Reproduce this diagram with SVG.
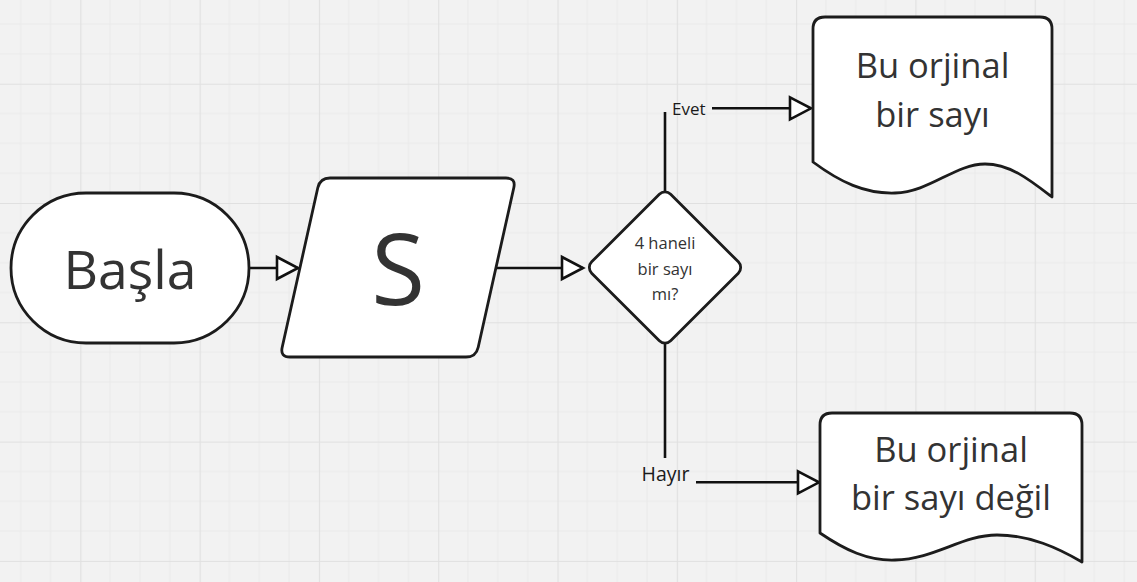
<svg xmlns="http://www.w3.org/2000/svg" width="1137" height="582" viewBox="0 0 1137 582">
  <style>
    .shape { fill: #ffffff; stroke: #1c1c1c; stroke-width: 2.8; stroke-linejoin: round; }
    .conn { fill: none; stroke: #111111; stroke-width: 2.6; }
    .txt { font-family: "Open Sans", "Noto Sans", "Liberation Sans", sans-serif; fill: #333333; text-anchor: middle; }
    .lbl { font-family: "Open Sans", "Noto Sans", "Liberation Sans", sans-serif; fill: #1a1a1a; }
  </style>
  <defs>
    <pattern id="grid" patternUnits="userSpaceOnUse" x="80.3" y="83.7" width="119.3" height="119.3">
      <rect width="119.3" height="119.3" fill="#f2f2f2"/>
      <path d="M29.8,0 V119.3 M59.65,0 V119.3 M89.5,0 V119.3 M0,29.8 H119.3 M0,59.65 H119.3 M0,89.5 H119.3" stroke="#eaeaea" stroke-width="1"/>
      <path d="M0.5,0 V119.3 M0,0.5 H119.3" stroke="#e0e0e0" stroke-width="1.2"/>
    </pattern>
    <marker id="arrow" markerUnits="userSpaceOnUse" markerWidth="30" markerHeight="30" viewBox="-4 -15 30 30" refX="21" refY="0" orient="auto" overflow="visible">
      <path d="M0,-11 L21,0 L0,11 Z" fill="#ffffff" stroke="#111111" stroke-width="2.6" stroke-linejoin="miter"/>
    </marker>
  </defs>

  <rect x="0" y="0" width="1137" height="582" fill="url(#grid)"/>

  <g id="connectors">
    <path class="conn" d="M249,268 L298,268" marker-end="url(#arrow)"/>
    <path class="conn" d="M495,268 L583,268" marker-end="url(#arrow)"/>
    <path class="conn" d="M665,191 L665,112"/>
    <path class="conn" d="M712,108.3 L811,108.3" marker-end="url(#arrow)"/>
    <text class="lbl" x="672" y="115" font-size="17">Evet</text>
    <path class="conn" d="M665,344 L665,458"/>
    <path class="conn" d="M696,482.3 L819,482.3" marker-end="url(#arrow)"/>
    <text class="lbl" x="665.5" y="481" font-size="19.5" text-anchor="middle">Hayır</text>
  </g>

  <g id="node-basla">
    <rect class="shape" x="11" y="193" width="238" height="150" rx="75" ry="75"/>
    <text class="txt" x="130" y="289" font-size="53.5">Başla</text>
  </g>

  <g id="node-s">
    <path class="shape" d="M330,178 L506,178 Q516,178 513.8,187.8 L478.2,347.2 Q476,357 466,357 L290,357 Q280,357 282.2,347.2 L317.8,187.8 Q320,178 330,178 Z"/>
    <text class="txt" x="398" y="305" font-size="98">S</text>
  </g>

  <g id="node-decision">
    <rect class="shape" x="609.15" y="211.65" width="111.7" height="111.7" rx="8" ry="8" transform="rotate(45 665 267.5)"/>
    <text class="txt" x="665" y="249" font-size="16.5">4 haneli</text>
    <text class="txt" x="665" y="275" font-size="16.5">bir sayı</text>
    <text class="txt" x="665" y="300" font-size="16.5">mı?</text>
  </g>

  <g id="node-yes">
    <path class="shape" d="M825,17 L1040,17 Q1052,17 1052,29 L1052,197 C1030,180 1010,164 985,164 C955,164 930,192 895,193 C865,194 840,182 813,162 L813,29 Q813,17 825,17 Z"/>
    <text class="txt" x="932.5" y="78" font-size="34.5">Bu orjinal</text>
    <text class="txt" x="932.5" y="127" font-size="34.5">bir sayı</text>
  </g>

  <g id="node-no">
    <path class="shape" d="M832,413 L1070,413 Q1082,413 1082,425 L1082,562 C1058,548 1030,535 997,535 C962,535 935,559 895,560 C868,561 845,550 820,533 L820,425 Q820,413 832,413 Z"/>
    <text class="txt" x="951" y="462" font-size="34.5">Bu orjinal</text>
    <text class="txt" x="951" y="510" font-size="34.5">bir sayı değil</text>
  </g>
</svg>
